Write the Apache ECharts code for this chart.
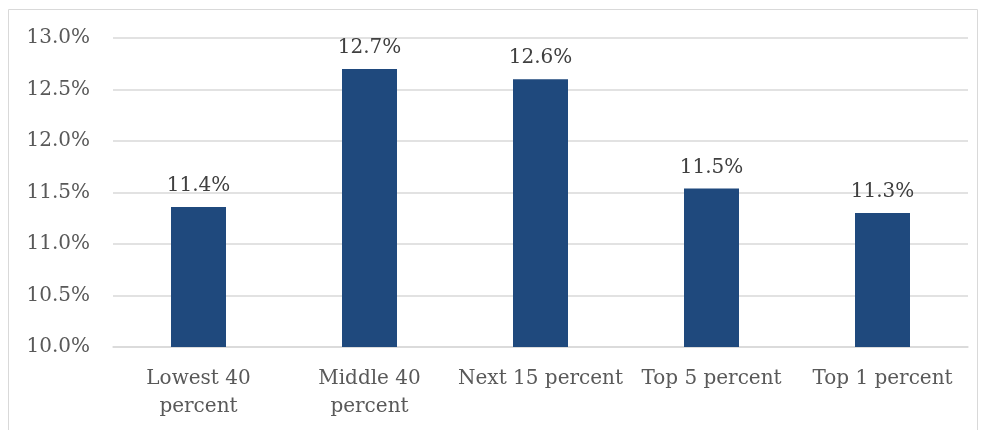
<!DOCTYPE html>
<html>
<head>
<meta charset="utf-8">
<script src="https://cdn.jsdelivr.net/npm/echarts@6/dist/echarts.min.js"></script>
<style>html,body{margin:0;padding:0;background:#fff}#c{width:985px;height:430px}</style>
</head>
<body>
<div id="c"></div>
<script>
var categories = ['Lowest 40\npercent', 'Middle 40\npercent', 'Next 15 percent', 'Top 5 percent', 'Top 1 percent'];
var values = [11.36, 12.70, 12.60, 11.54, 11.30];
var yTicks = { min: 10.0, max: 13.0, interval: 0.5 };

var font = '"DejaVu Serif", serif';
var chart = echarts.init(document.getElementById('c'));
chart.setOption({
  animation: false,
  graphic: [{
    type: 'rect', shape: { x: 8.5, y: 9.5, width: 969, height: 440 },
    style: { fill: 'none', stroke: '#d9d9d9', lineWidth: 1 }, silent: true
  }],
  grid: { left: 113, right: 17, top: 38, bottom: 83 },
  xAxis: {
    type: 'category', data: categories,
    axisLine: { lineStyle: { color: '#d9d9d9', width: 1.5 } },
    axisTick: { show: false },
    axisLabel: { color: '#595959', fontFamily: font, fontSize: 20, lineHeight: 28, margin: 18, interval: 0 }
  },
  yAxis: {
    type: 'value', min: yTicks.min, max: yTicks.max, interval: yTicks.interval,
    axisLine: { show: false }, axisTick: { show: false },
    splitLine: { lineStyle: { color: '#d9d9d9', width: 1.5 } },
    axisLabel: { color: '#595959', fontFamily: font, fontSize: 20, margin: 23, padding: [3, 0, 0, 0],
      formatter: function (v) { return v.toFixed(1) + '%'; } }
  },
  series: [{
    type: 'bar', data: values, barWidth: 55,
    itemStyle: { color: '#1F497D' },
    label: { show: true, position: 'top', distance: 11, color: '#404040', fontFamily: font, fontSize: 20,
      formatter: function (p) { return p.value.toFixed(1) + '%'; } }
  }]
});
</script>
</body>
</html>
